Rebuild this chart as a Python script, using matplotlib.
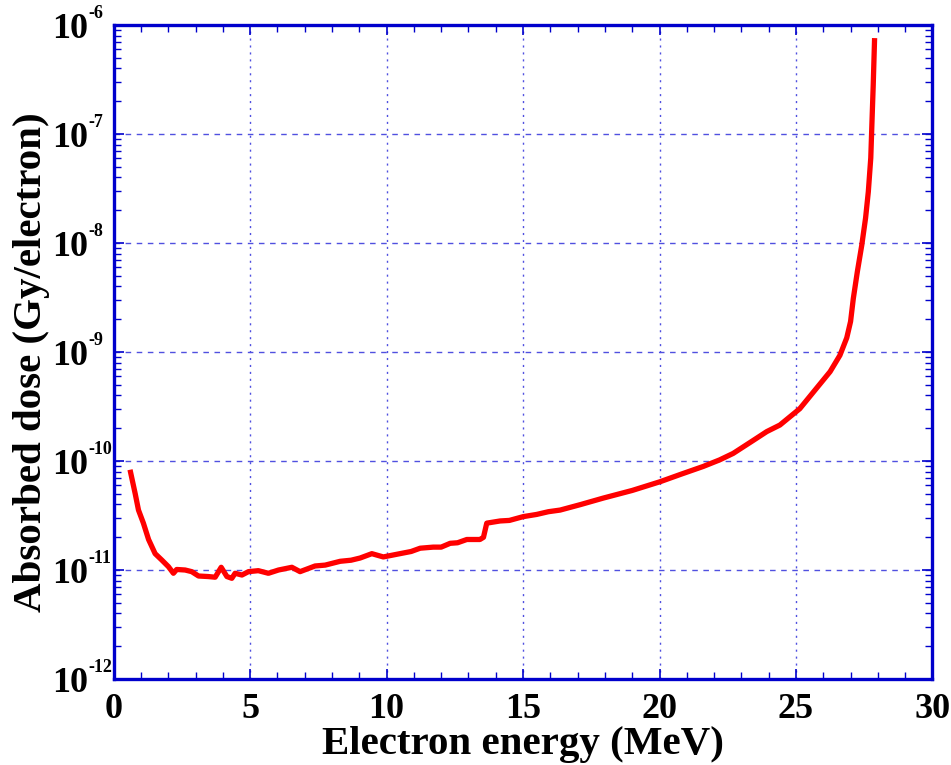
import math
import matplotlib
matplotlib.use("Agg")
import matplotlib.pyplot as plt
from matplotlib.ticker import FixedLocator, FuncFormatter, LogLocator, MultipleLocator, NullFormatter

plt.rcParams['font.family'] = ['Liberation Serif', 'DejaVu Serif']
plt.rcParams['font.weight'] = 'bold'

energy = [0.60, 0.79, 0.91, 1.09, 1.28, 1.52, 1.77, 2.01, 2.19, 2.31, 2.62, 2.86, 3.11,
          3.47, 3.72, 3.94, 4.15, 4.33, 4.45, 4.70, 4.94, 5.30, 5.67, 6.04, 6.53, 6.83,
          7.38, 7.75, 8.30, 8.70, 9.03, 9.46, 9.88, 10.49, 10.90, 11.23, 11.71, 12.00,
          12.33, 12.60, 12.94, 13.42, 13.55, 13.67, 14.16, 14.50, 15.01, 15.50, 15.93,
          16.36, 17.10, 17.94, 19.00, 20.02, 20.80, 21.6, 22.2, 22.70, 23.44, 23.93, 24.41,
          25.14, 25.76, 26.25, 26.61, 26.86, 27.0, 27.10, 27.25, 27.41, 27.55, 27.65,
          27.74, 27.78, 27.83, 27.88]
log_dose = [-10.08, -10.30, -10.45, -10.57, -10.72, -10.85, -10.91, -10.97, -11.03,
            -10.995, -11.0, -11.015, -11.055, -11.06, -11.066, -10.975, -11.06, -11.076,
            -11.03, -11.046, -11.015, -11.006, -11.03, -11.0, -10.975, -11.015, -10.963,
            -10.955, -10.92, -10.91, -10.89, -10.85, -10.88, -10.85, -10.83, -10.80,
            -10.79, -10.79, -10.755, -10.75, -10.72, -10.72, -10.70, -10.57, -10.55,
            -10.545, -10.51, -10.49, -10.465, -10.45, -10.40, -10.34, -10.27, -10.19,
            -10.12, -10.05, -9.99, -9.93, -9.81, -9.73, -9.67, -9.52, -9.33, -9.18, -9.03,
            -8.87, -8.72, -8.51, -8.26, -8.02, -7.77, -7.53, -7.22, -6.92, -6.55, -6.12]
dose = [10 ** v for v in log_dose]

x_ticks = [0, 5, 10, 15, 20, 25, 30]
y_ticks = [1e-12, 1e-11, 1e-10, 1e-9, 1e-8, 1e-7, 1e-6]

blue = '#0000cc'
grid_blue = '#5050e0'

fig = plt.figure(figsize=(9.51, 7.65), dpi=100)
ax = fig.add_axes([0.1195, 0.1124, 0.861, 0.8549])

ax.plot(energy, dose, color='#ff0000', lw=3.8, solid_joinstyle='round',
        solid_capstyle='butt', zorder=3)

ax.set_yscale('log')
ax.set_xlim(0, 30)
ax.set_ylim(1e-12, 1e-6)

ax.xaxis.set_major_locator(FixedLocator(x_ticks))
ax.xaxis.set_minor_locator(MultipleLocator(1))
ax.yaxis.set_major_locator(FixedLocator(y_ticks))
ax.yaxis.set_minor_locator(LogLocator(base=10, subs=range(2, 10), numticks=20))
ax.yaxis.set_minor_formatter(NullFormatter())

# mantissa "10" as tick label, exponent as a small raised text
ax.yaxis.set_major_formatter(FuncFormatter(lambda v, p: '10'))
ax.xaxis.set_major_formatter(FuncFormatter(lambda v, p: '%d' % v))

for v in y_ticks:
    e = int(round(math.log10(v)))
    ax.annotate('-%d' % (-e), xy=(0, v), xycoords=('axes fraction', 'data'),
                xytext=(-25, 3), textcoords='offset pixels', ha='left', va='bottom',
                fontsize=13, fontweight='bold', annotation_clip=False)

ax.tick_params(which='both', direction='in', top=True, right=True, color=blue)
ax.tick_params(which='major', length=7, width=1.2, labelsize=26)
ax.tick_params(axis='y', which='major', pad=18.5)
ax.tick_params(axis='x', which='major', pad=10)
ax.tick_params(which='minor', length=5, width=1.0)
for lab in ax.get_xticklabels() + ax.get_yticklabels():
    lab.set_fontweight('bold')

ax.xaxis.grid(True, which='major', color=grid_blue, linestyle=(0, (1.5, 3.5)), lw=1.0)
ax.yaxis.grid(True, which='major', color=grid_blue, linestyle=(0, (4, 4)), lw=1.0)

for s in ax.spines.values():
    s.set_color(blue)
    s.set_linewidth(2.4)

ax.set_xlabel('Electron energy (MeV)', fontsize=29.5, fontweight='bold', labelpad=0)
ax.set_ylabel('Absorbed dose (Gy/electron)', fontsize=29.5, fontweight='bold')
ax.yaxis.set_label_coords(-0.0775, 0.485)

fig.savefig('out.png', dpi=100)
